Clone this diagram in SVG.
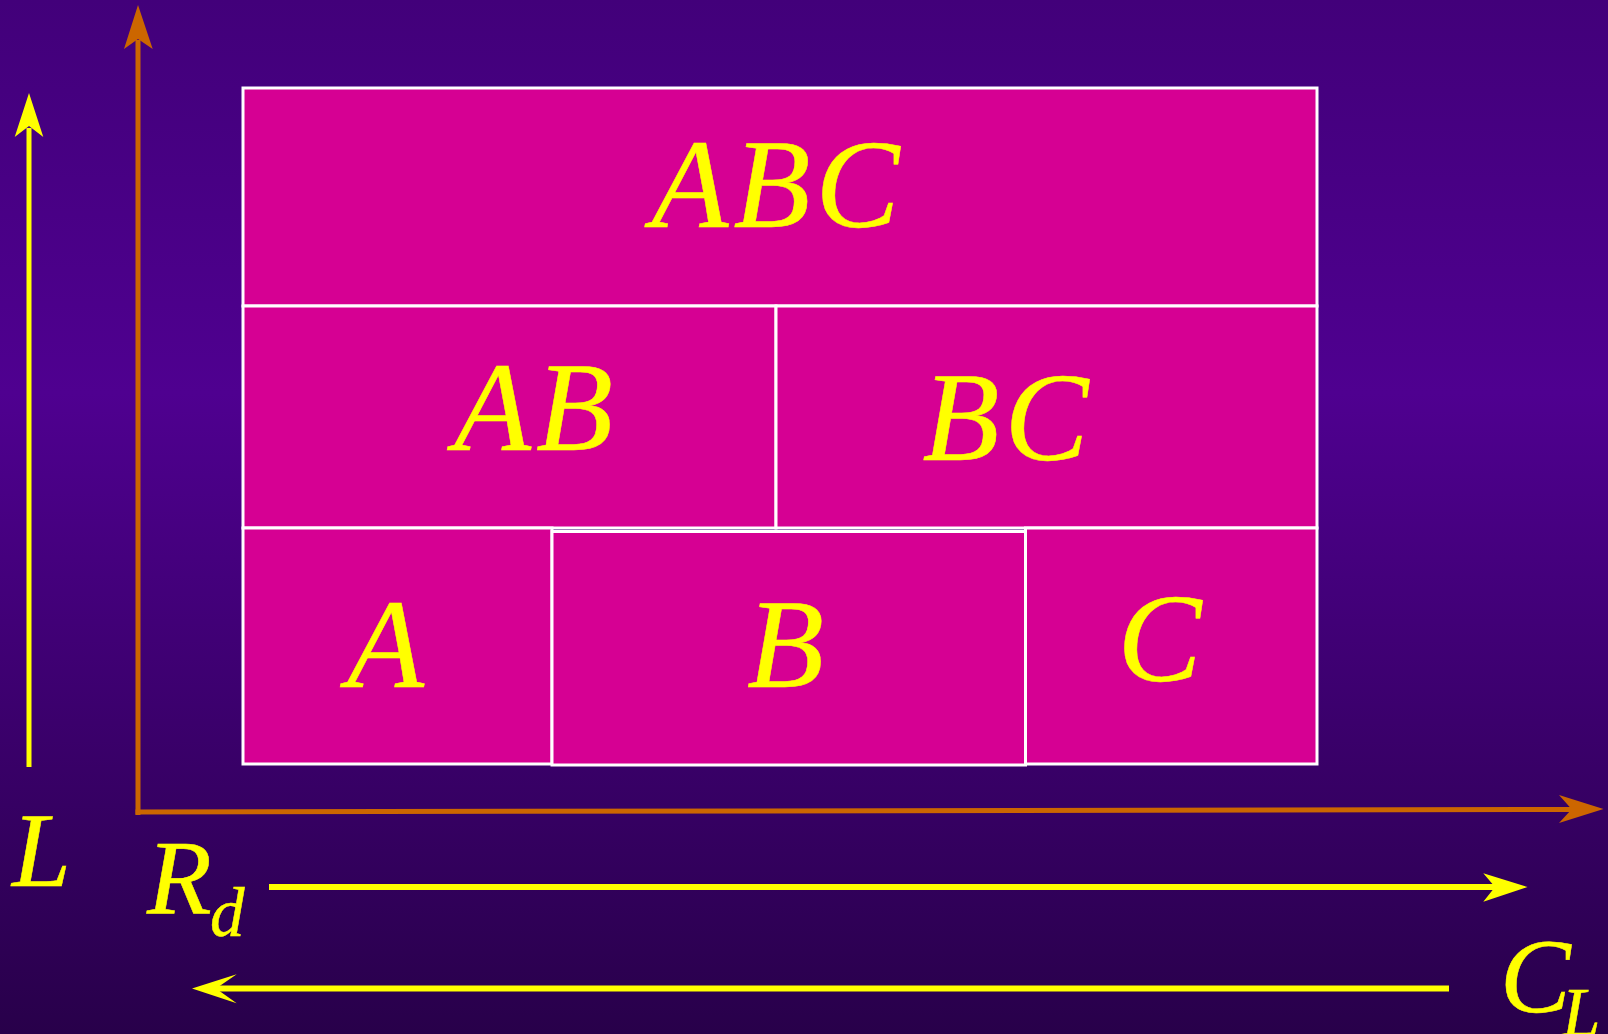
<svg xmlns="http://www.w3.org/2000/svg" width="1608" height="1034" viewBox="0 0 1608 1034">
  <defs>
    <linearGradient id="bg" x1="0" y1="0" x2="0" y2="1">
      <stop offset="0" stop-color="#42007a"/>
      <stop offset="0.38" stop-color="#4f0090"/>
      <stop offset="1" stop-color="#28004a"/>
    </linearGradient>
    <style>
      .cell { fill: #d60093; stroke: #ffffff; stroke-width: 3; }
      .lbl { font-family: "Liberation Serif", "Times New Roman", serif; font-style: italic; fill: #ffff00; stroke: #ffff00; stroke-width: 0.5; }
      .big { font-size: 126px; text-anchor: middle; letter-spacing: 5px; }
      .ax { font-size: 106px; }
      .sub { font-size: 69px; }
      .ylw { stroke: #ffff00; stroke-width: 5; fill: none; }
      .org { stroke: #cc6600; stroke-width: 5; fill: none; }
      .yh { fill: #ffff00; }
      .oh { fill: #cc6600; }
    </style>
  </defs>
  <rect x="0" y="0" width="1608" height="1034" fill="url(#bg)"/>

  <g id="node-ABC">
    <rect class="cell" x="243" y="88" width="1074" height="218"/>
    <text class="lbl big" x="778" y="227">ABC</text>
  </g>
  <g id="node-AB">
    <rect class="cell" x="243" y="306" width="533" height="222"/>
    <text class="lbl big" x="536" y="450">AB</text>
  </g>
  <g id="node-BC">
    <rect class="cell" x="776" y="306" width="541" height="222"/>
    <text class="lbl big" x="1008" y="460">BC</text>
  </g>
  <g id="node-A">
    <rect class="cell" x="243" y="528" width="309" height="236"/>
    <text class="lbl big" x="388" y="687">A</text>
  </g>
  <g id="node-C">
    <rect class="cell" x="1025.5" y="528" width="291.5" height="236"/>
    <text class="lbl big" x="1162" y="681">C</text>
  </g>
  <g id="node-B">
    <rect class="cell" x="552" y="531.5" width="473.5" height="233.5"/>
    <text class="lbl big" x="788" y="687">B</text>
  </g>

  <g id="connectors">
    <line class="ylw" x1="29" y1="767" x2="29" y2="128"/>
    <polygon class="yh" points="29,93 43.3,137 29,126 14.7,137"/>

    <line class="org" x1="138" y1="815" x2="138" y2="40"/>
    <polygon class="oh" points="138,5 152.7,49 138,39 124,49"/>

    <line class="org" x1="135.5" y1="812" x2="1573" y2="809.5"/>
    <polygon class="oh" points="1603.5,809 1559,823 1571.7,809.3 1559,795"/>

    <line class="ylw" style="stroke-width:6" x1="269" y1="887" x2="1496" y2="887"/>
    <polygon class="yh" points="1527.5,887 1483.3,901.7 1495,887 1483.3,873.3"/>

    <line class="ylw" style="stroke-width:6" x1="1449" y1="988.5" x2="215" y2="988.5"/>
    <polygon class="yh" points="192,988.5 236.7,974.3 216,988.5 236.7,1003.3"/>
  </g>

  <g id="labels">
    <text class="lbl ax" x="12" y="886">L</text>
    <text class="lbl ax" x="147" y="913">R<tspan class="sub" x="210" y="936">d</tspan></text>
    <text class="lbl ax" x="1500" y="1012">C<tspan class="sub" x="1562" y="1036">L</tspan></text>
  </g>
</svg>
